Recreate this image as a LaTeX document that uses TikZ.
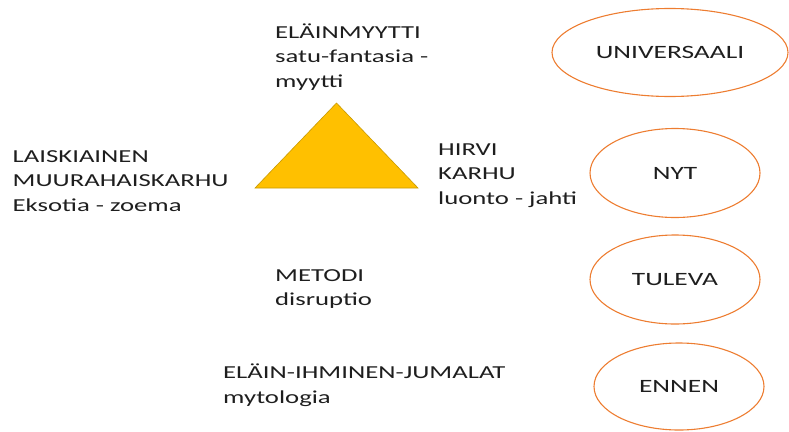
\documentclass[tikz,border=0pt]{standalone}
\usepackage{fontspec}
\setmainfont{Carlito}[FakeStretch=1.46]
\usetikzlibrary{shapes.geometric}
\definecolor{txt}{HTML}{1E1E1E}
\definecolor{gold}{HTML}{FFC000}
\definecolor{goldedge}{HTML}{C99A00}
\definecolor{ring}{HTML}{ED7D31}
\tikzset{
  lbl/.style={anchor=base west, inner sep=0pt, text=txt, font=\fontsize{18.3}{24.5}\selectfont},
  era/.style={ellipse, draw=ring, line width=1.1pt, inner sep=0pt, text=txt,
              font=\fontsize{18.8}{22}\selectfont},
}
% stacked lines whose first baseline is the node's base
\newcommand{\lines}[1]{\vtop{\baselineskip=24.5pt\halign{##\hfil\cr#1\crcr}}}
\begin{document}
\begin{tikzpicture}[x=1pt,y=-1pt]
\useasboundingbox (0,0) rectangle (789,431);

% triangle
\coordinate (apex) at (336.5,103);
\coordinate (bl) at (255,188);
\coordinate (br) at (418,188);
\fill[gold, draw=goldedge, line width=0.6pt, line join=miter] (apex) -- (br) -- (bl) -- cycle;

% labels round the triangle
\node[lbl] (top) at (275,38) {\lines{ELÄINMYYTTI\cr satu-fantasia -\cr myytti}};
\node[lbl] (left) at (12.5,162) {\lines{LAISKIAINEN\cr MUURAHAISKARHU\cr Eksotia - zoema}};
\node[lbl] (right) at (438,155) {\lines{HIRVI\cr KARHU\cr luonto - jahti}};
\node[lbl] (metodi) at (275,281) {\lines{METODI\cr disruptio}};
\node[lbl] (myto) at (223,378.5) {\lines{ELÄIN-IHMINEN-JUMALAT\cr mytologia}};

% time ellipses
\node[era, minimum width=236pt, minimum height=88pt] (univ) at (670,52.5) {UNIVERSAALI};
\node[era, minimum width=170pt, minimum height=89pt] (nyt) at (675,173) {NYT};
\node[era, minimum width=170pt, minimum height=89pt] (tuleva) at (675,279.5) {TULEVA};
\node[era, minimum width=170pt, minimum height=87pt] (ennen) at (679,386.5) {ENNEN};
\end{tikzpicture}
\end{document}
